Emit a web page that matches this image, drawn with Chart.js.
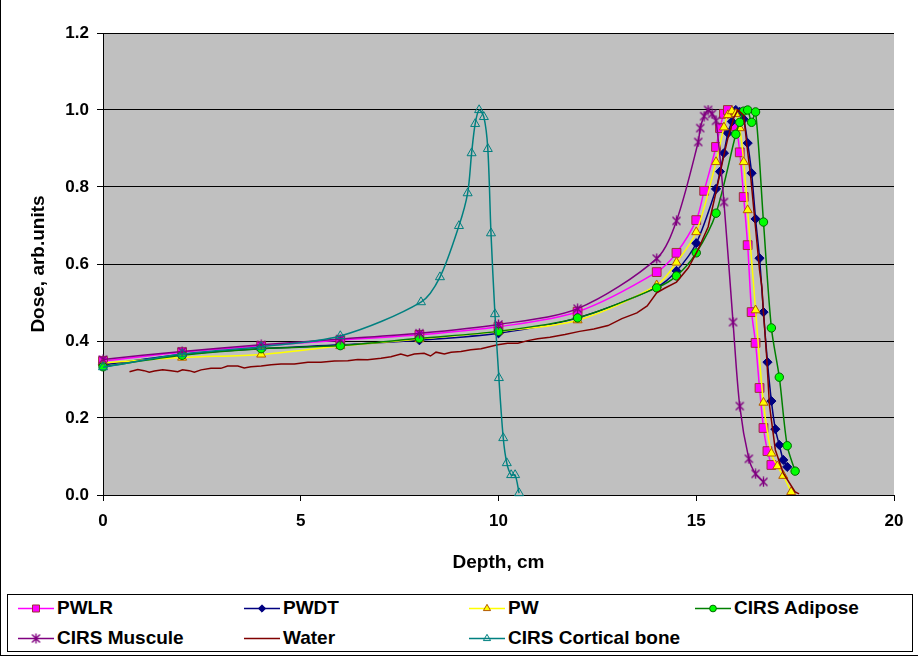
<!DOCTYPE html>
<html>
<head>
<meta charset="utf-8">
<title>Depth dose</title>
<script src="https://cdn.jsdelivr.net/npm/chart.js@4.4.1/dist/chart.umd.min.js"></script>
<style>
  html, body { margin: 0; padding: 0; background: #fff; }
  #wrap { position: relative; width: 918px; height: 656px; box-sizing: border-box; border-left: 1px solid #000; border-bottom: 1px solid #000;
          font-family: "Liberation Sans", Arial, sans-serif; font-weight: bold; }
  #chartBox { position: absolute; left: 0; top: 0; width: 918px; height: 590px; }
  #legend { position: absolute; left: 6px; top: 594px; width: 906px; height: 58px; border: 1px solid #000; box-sizing: border-box; }
  .item { position: absolute; display: flex; align-items: center; font-size: 19px; height: 22px; white-space: nowrap; }
  .item canvas { margin-right: 3px; }
</style>
</head>
<body>
<div id="wrap">
  <div id="chartBox"><canvas id="doseChart"></canvas></div>
  <div id="legend"></div>
</div>
<script>
// depth (cm) / dose (arb. units)
const pwlrX = [0, 2, 4, 6, 8, 10, 12, 14, 14.5, 15, 15.2, 15.5, 15.6, 15.7, 15.8, 16, 16.1, 16.2, 16.3, 16.4, 16.5, 16.6, 16.7, 16.8, 16.9];
const pwlrY = [0.348, 0.371, 0.387, 0.402, 0.416, 0.437, 0.476, 0.579, 0.629, 0.714, 0.79, 0.904, 0.953, 0.99, 1.0, 0.958, 0.89, 0.774, 0.649, 0.475, 0.395, 0.278, 0.174, 0.114, 0.078];

const pwdtX = [0, 2, 4, 6, 8, 10, 12, 14, 14.5, 15, 15.5, 15.6, 15.7, 15.8, 15.9, 16, 16.1, 16.2, 16.3, 16.4, 16.5, 16.6, 16.7, 16.8, 16.9, 17, 17.1, 17.2, 17.3];
const pwdtY = [0.338, 0.365, 0.38, 0.39, 0.402, 0.42, 0.46, 0.54, 0.582, 0.654, 0.795, 0.84, 0.888, 0.94, 0.97, 1.0, 0.995, 0.976, 0.914, 0.836, 0.717, 0.615, 0.475, 0.345, 0.244, 0.171, 0.13, 0.091, 0.073];

const pwX = [0, 2, 4, 6, 8, 10, 12, 14, 14.5, 15, 15.5, 15.7, 15.8, 15.9, 16, 16.1, 16.2, 16.3, 16.5, 16.7, 16.9, 17.05, 17.2, 17.4];
const pwY = [0.343, 0.357, 0.365, 0.387, 0.405, 0.425, 0.454, 0.545, 0.604, 0.683, 0.865, 0.955, 0.987, 0.997, 0.99, 0.953, 0.865, 0.74, 0.48, 0.24, 0.108, 0.075, 0.05, 0.008];

const adiposeX = [0, 2, 4, 6, 8, 10, 12, 14, 14.5, 15, 15.5, 16, 16.1, 16.2, 16.3, 16.4, 16.5, 16.7, 16.9, 17.1, 17.3, 17.5];
const adiposeY = [0.333, 0.363, 0.38, 0.388, 0.407, 0.425, 0.46, 0.538, 0.569, 0.629, 0.732, 0.937, 0.968, 0.997, 1.0, 0.968, 0.995, 0.709, 0.434, 0.306, 0.128, 0.062];

const muscleX = [0, 2, 4, 6, 8, 10, 12, 14, 14.5, 15.05, 15.1, 15.2, 15.3, 15.4, 15.5, 15.7, 15.93, 16.1, 16.33, 16.5, 16.7];
const muscleY = [0.352, 0.373, 0.39, 0.405, 0.42, 0.443, 0.484, 0.614, 0.712, 0.917, 0.953, 0.984, 1.0, 0.99, 0.972, 0.761, 0.449, 0.231, 0.094, 0.055, 0.034];

const waterX = [0.67, 0.88, 1.04, 1.17, 1.3, 1.51, 1.72, 1.89, 2.01, 2.18, 2.31, 2.48, 2.73, 2.98, 3.15, 3.41, 3.57, 3.74, 4.0, 4.25,
  4.5, 4.84, 5.18, 5.51, 5.85, 6.19, 6.44, 6.69, 7.03, 7.28, 7.53, 7.7, 7.87, 8.12, 8.28, 8.42, 8.63, 8.8, 9.05, 9.3,
  9.56, 9.77, 9.98, 10.23, 10.49, 10.74, 10.99, 11.3, 11.68, 12.05, 12.41, 12.77, 13.12, 13.5, 13.76, 14.0, 14.2, 14.5, 14.8, 15.04,
  15.3, 15.5, 15.7, 15.8, 15.95, 16.05, 16.2, 16.28, 16.38, 16.5, 16.6, 16.66, 16.7, 16.78, 16.85, 17.0, 17.2, 17.5, 17.6];
const waterY = [0.320, 0.326, 0.323, 0.319, 0.322, 0.325, 0.323, 0.320, 0.325, 0.323, 0.319, 0.325, 0.329, 0.329, 0.335, 0.335, 0.330, 0.333, 0.335, 0.338,
  0.340, 0.340, 0.345, 0.345, 0.348, 0.349, 0.352, 0.351, 0.355, 0.359, 0.366, 0.361, 0.366, 0.368, 0.361, 0.371, 0.366, 0.371, 0.373, 0.377,
  0.380, 0.385, 0.390, 0.394, 0.394, 0.401, 0.406, 0.41, 0.417, 0.425, 0.431, 0.44, 0.458, 0.473, 0.491, 0.525, 0.537, 0.553, 0.59, 0.636,
  0.696, 0.787, 0.883, 0.927, 0.98, 1.0, 0.987, 0.909, 0.823, 0.693, 0.584, 0.54, 0.473, 0.36, 0.234, 0.117, 0.057, 0.008, 0.003];

const boneX = [0, 2, 4, 6, 8.04, 8.52, 9.0, 9.22, 9.32, 9.41, 9.51, 9.63, 9.73, 9.81, 9.91, 10.01, 10.12, 10.21, 10.32, 10.42, 10.52];
const boneY = [0.332, 0.366, 0.385, 0.413, 0.501, 0.566, 0.699, 0.784, 0.888, 0.964, 1.0, 0.982, 0.899, 0.68, 0.47, 0.304, 0.148, 0.083, 0.052, 0.052, 0.005];

const xTicks = [0, 5, 10, 15, 20];
const yTicks = [0, 0.2, 0.4, 0.6, 0.8, 1.0, 1.2];

// excel style "*" marker
function asteriskMarker(color) {
  const c = document.createElement("canvas");
  c.width = 11; c.height = 11;
  const g = c.getContext("2d");
  g.strokeStyle = color;
  g.lineWidth = 1.4;
  g.beginPath();
  g.moveTo(1.5, 1.5); g.lineTo(9.5, 9.5);
  g.moveTo(9.5, 1.5); g.lineTo(1.5, 9.5);
  g.moveTo(5.5, 0.5); g.lineTo(5.5, 10.5);
  g.stroke();
  return c;
}

const zip = (xs, ys) => xs.map((x, i) => ({ x, y: ys[i] }));

const series = [
  { label: "PWLR", xs: pwlrX, ys: pwlrY, line: "#FF00FF", fill: "#FF00FF", edge: "#993333", style: "rect", r: 6.2 },
  { label: "PWDT", xs: pwdtX, ys: pwdtY, line: "#000080", fill: "#000080", edge: "#000080", style: "rectRot", r: 4.6 },
  { label: "PW", xs: pwX, ys: pwY, line: "#FFFF00", fill: "#FFFF00", edge: "#B35900", style: "triangle", r: 5.2 },
  { label: "CIRS Adipose", xs: adiposeX, ys: adiposeY, line: "#008000", fill: "#00FF00", edge: "#006600", style: "circle", r: 4.2 },
  { label: "CIRS Muscule", xs: muscleX, ys: muscleY, line: "#800080", fill: "#800080", edge: "#800080", style: asteriskMarker("#800080"), r: 5 },
  { label: "Water", xs: waterX, ys: waterY, line: "#800000", fill: "#800000", edge: "#800000", style: false, r: 0 },
  { label: "CIRS Cortical bone", xs: boneX, ys: boneY, line: "#008080", fill: "rgba(0,0,0,0)", edge: "#008080", style: "triangle", r: 5.2 }
];

const datasets = series.map((s, i) => ({
  label: s.label,
  data: zip(s.xs, s.ys),
  showLine: true,
  borderColor: s.line,
  borderWidth: 1.5,
  backgroundColor: s.fill,
  tension: s.label === "Water" ? 0 : 0.3,
  pointStyle: s.style,
  pointRadius: s.r,
  pointBackgroundColor: s.fill,
  pointBorderColor: s.edge,
  pointBorderWidth: 1,
  clip: 8,
  order: series.length - i
}));

const plotBg = {
  id: "plotBg",
  beforeDraw(chart) {
    const { ctx, chartArea: a } = chart;
    ctx.save();
    ctx.fillStyle = "#C0C0C0";
    ctx.fillRect(a.left, a.top, a.right - a.left, a.bottom - a.top);
    ctx.restore();
  }
};

const tickFont = { family: "'Liberation Sans', Arial, sans-serif", size: 17, weight: "bold" };
const titleFont = { family: "'Liberation Sans', Arial, sans-serif", size: 19, weight: "bold" };

new Chart(document.getElementById("doseChart"), {
  type: "scatter",
  data: { datasets },
  plugins: [plotBg],
  options: {
    responsive: true,
    maintainAspectRatio: false,
    animation: false,
    layout: { padding: { top: 33, right: 25, left: 0, bottom: 0 } },
    plugins: { legend: { display: false }, tooltip: { enabled: false } },
    scales: {
      x: {
        type: "linear", min: 0, max: 20,
        afterBuildTicks: (s) => { s.ticks = xTicks.map(v => ({ value: v })); },
        afterFit: (s) => { s.height = 95; },
        ticks: { color: "#000", font: tickFont, padding: 10, maxRotation: 0 },
        grid: { drawOnChartArea: false, drawTicks: true, tickLength: 6, color: "#000" },
        border: { color: "#000", width: 1 },
        title: { display: true, text: "Depth, cm", color: "#000", font: titleFont, padding: { top: 4, bottom: 16 } }
      },
      y: {
        type: "linear", min: 0, max: 1.2,
        afterBuildTicks: (s) => { s.ticks = yTicks.map(v => ({ value: v })); },
        afterFit: (s) => { s.width = 102; },
        ticks: { color: "#000", font: tickFont, padding: 8, callback: (v) => Number(v).toFixed(1) },
        grid: { color: "#000", lineWidth: 1, tickLength: 6, tickColor: "#000" },
        border: { color: "#000", width: 1 },
        title: { display: true, text: "Dose, arb.units", color: "#000", font: titleFont, padding: { top: 26, bottom: 4 } }
      }
    }
  }
});

// legend laid out on a 4-column grid like the original
const legend = document.getElementById("legend");
const colLeft = [10, 236, 461, 687];
const rowTop = [2, 32];
series.forEach((s, i) => {
  const item = document.createElement("div");
  item.className = "item";
  item.style.left = colLeft[i % 4] + "px";
  item.style.top = rowTop[Math.floor(i / 4)] + "px";
  const c = document.createElement("canvas");
  c.width = 36; c.height = 20;
  const g = c.getContext("2d");
  g.strokeStyle = s.line; g.lineWidth = 1.5;
  g.beginPath(); g.moveTo(0, 10.5); g.lineTo(36, 10.5); g.stroke();
  if (s.style) {
    g.fillStyle = s.fill; g.strokeStyle = s.edge; g.lineWidth = 1;
    Chart.helpers.drawPoint(g, { pointStyle: s.style, radius: s.r * 0.8, rotation: 0, borderWidth: 1 }, 18, 10.5);
  }
  item.appendChild(c);
  const t = document.createElement("span");
  t.textContent = s.label;
  item.appendChild(t);
  legend.appendChild(item);
});
</script>
</body>
</html>
